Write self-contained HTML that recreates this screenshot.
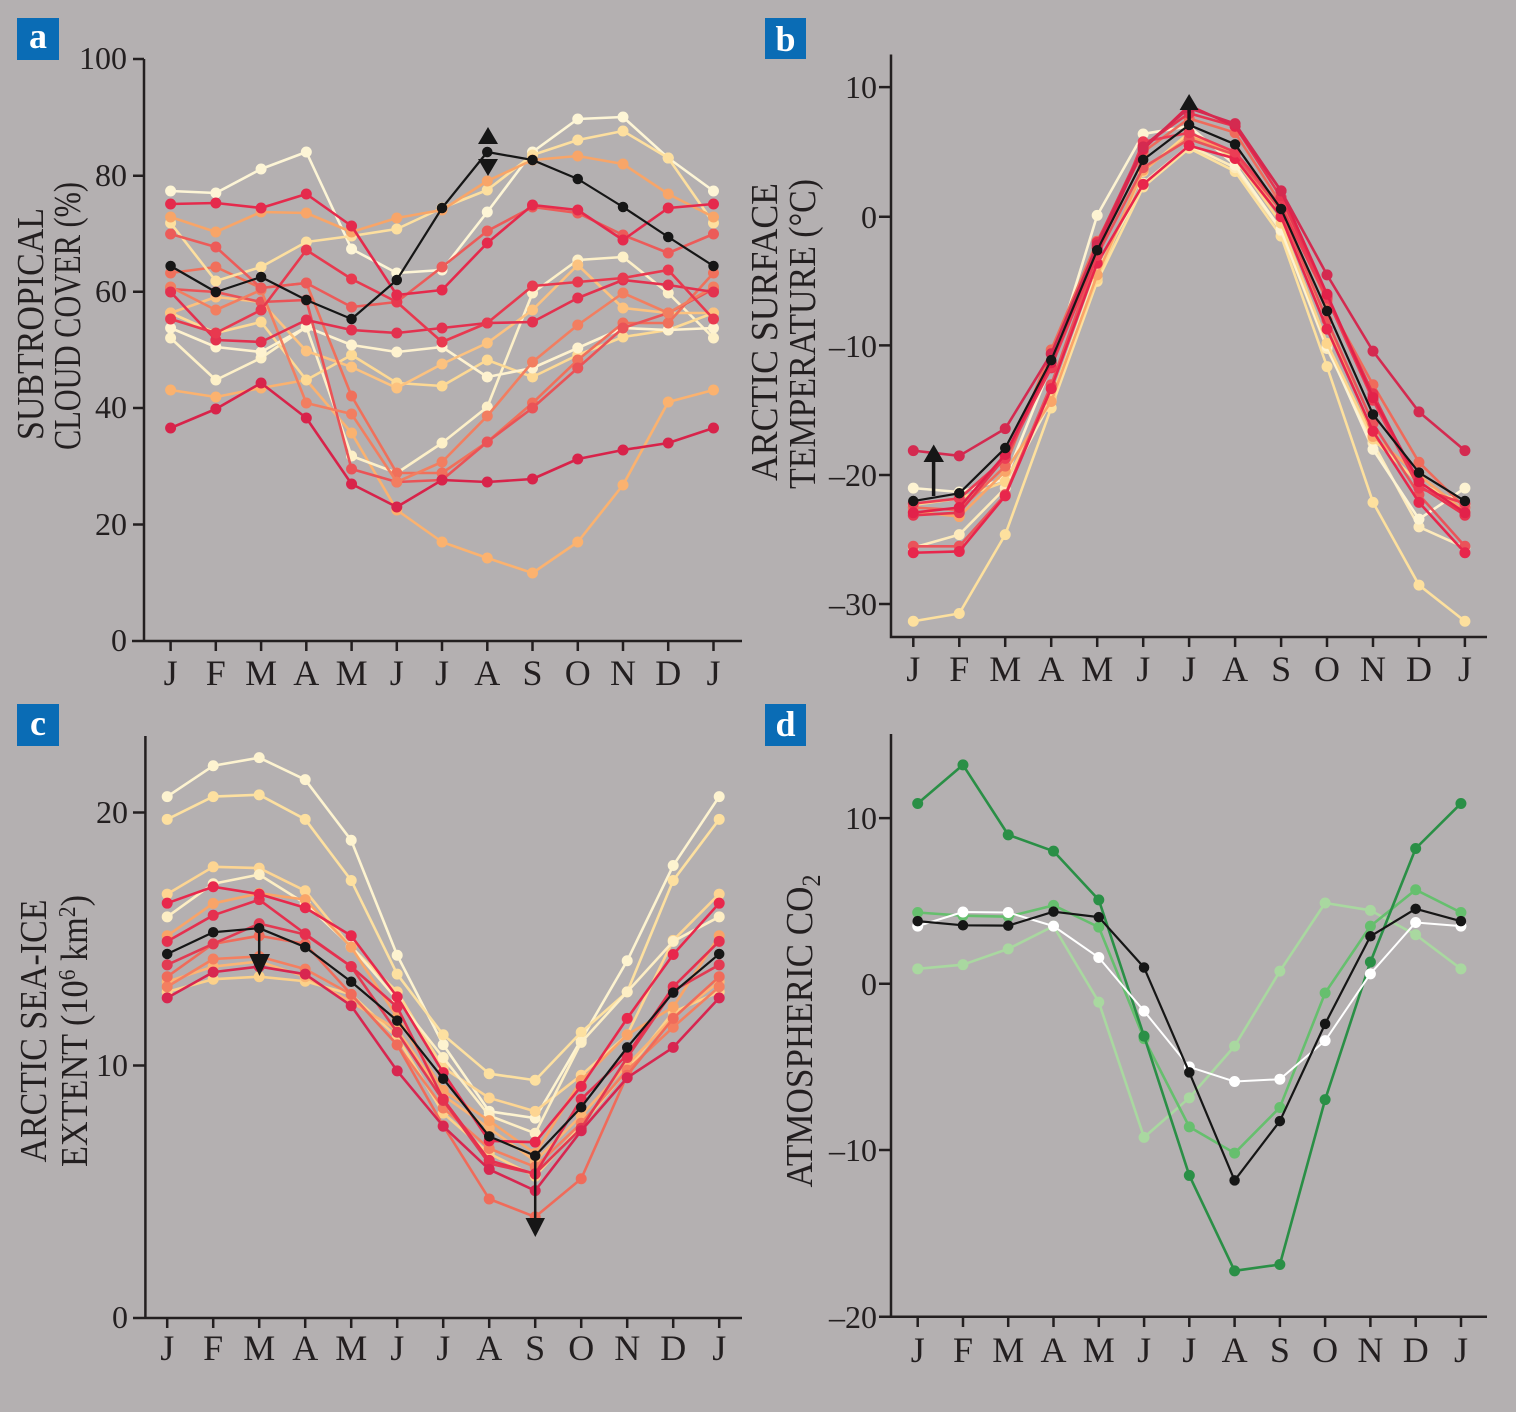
<!DOCTYPE html>
<html><head><meta charset="utf-8"><style>
html,body{margin:0;padding:0;background:#b4b0b1;}
svg{display:block;}
.l{fill:none;stroke-width:2.6;stroke-linejoin:round;vector-effect:non-scaling-stroke;}
.d{fill:none;stroke-width:11;stroke-linecap:round;vector-effect:non-scaling-stroke;}
.kl{fill:none;stroke:#161616;stroke-width:2.2;stroke-linejoin:round;vector-effect:non-scaling-stroke;}
.kd{fill:none;stroke:#161616;stroke-width:10.5;stroke-linecap:round;vector-effect:non-scaling-stroke;}
.ax{fill:none;stroke:#231f20;stroke-width:2.5;}
.t{font-family:"Liberation Serif",serif;fill:#231f20;font-size:32px;}
.m{font-family:"Liberation Serif",serif;fill:#231f20;font-size:36px;text-anchor:middle;}
.yl{font-family:"Liberation Serif",serif;fill:#231f20;font-size:38px;text-anchor:middle;}
.bx{font-family:"Liberation Serif",serif;fill:#fff;font-size:36px;font-weight:bold;text-anchor:middle;}
</style></head><body>
<svg width="1516" height="1412" viewBox="0 0 1516 1412" xmlns="http://www.w3.org/2000/svg">
<rect width="1516" height="1412" fill="#b4b0b1"/>

<!-- ================= PANEL A ================= -->
<rect x="17" y="18" width="42" height="42" fill="#0a6cb5"/>
<text class="bx" x="38" y="48">a</text>
<g transform="translate(170.6,0) scale(45.24,1)">
<path class="l" stroke="#fbb26f" d="M0 390L1 397L2 388L3 380L4 433L5 510L6 542L7 558L8 573L9 542L10 485L11 402L12 390"/>
<path class="d" stroke="#fbb26f" d="M0 390h0M1 397h0M2 388h0M3 380h0M4 433h0M5 510h0M6 542h0M7 558h0M8 573h0M9 542h0M10 485h0M11 402h0M12 390h0"/>
<path class="l" stroke="#fdf0c8" d="M0 338L1 380L2 358L3 327L4 456L5 473L6 443L7 407L8 293L9 260L10 257L11 293L12 338"/>
<path class="d" stroke="#fdf0c8" d="M0 338h0M1 380h0M2 358h0M3 327h0M4 456h0M5 473h0M6 443h0M7 407h0M8 293h0M9 260h0M10 257h0M11 293h0M12 338h0"/>
<path class="l" stroke="#fdd994" d="M0 313L1 333L2 322L3 380L4 355L5 383L6 386L7 360L8 377L9 355L10 337L11 330L12 313"/>
<path class="d" stroke="#fdd994" d="M0 313h0M1 333h0M2 322h0M3 380h0M4 355h0M5 383h0M6 386h0M7 360h0M8 377h0M9 355h0M10 337h0M11 330h0M12 313h0"/>
<path class="l" stroke="#fef2cf" d="M0 328L1 347L2 352L3 327L4 345L5 352L6 347L7 377L8 368L9 348L10 328L11 330L12 328"/>
<path class="d" stroke="#fef2cf" d="M0 328h0M1 347h0M2 352h0M3 327h0M4 345h0M5 352h0M6 347h0M7 377h0M8 368h0M9 348h0M10 328h0M11 330h0M12 328h0"/>
<path class="l" stroke="#fcc27f" d="M0 313L1 297L2 302L3 351L4 367L5 388L6 364L7 343L8 310L9 265L10 308L11 313L12 313"/>
<path class="d" stroke="#fcc27f" d="M0 313h0M1 297h0M2 302h0M3 351h0M4 367h0M5 388h0M6 364h0M7 343h0M8 310h0M9 265h0M10 308h0M11 313h0M12 313h0"/>
<path class="l" stroke="#f0705b" d="M0 273L1 267L2 288L3 283L4 396L5 473L6 473L7 442L8 403L9 360L10 323L11 323L12 273"/>
<path class="d" stroke="#f0705b" d="M0 273h0M1 267h0M2 288h0M3 283h0M4 396h0M5 473h0M6 473h0M7 442h0M8 403h0M9 360h0M10 323h0M11 323h0M12 273h0"/>
<path class="l" stroke="#ea5357" d="M0 289L1 292L2 302L3 300L4 469L5 482L6 480L7 442L8 408L9 368L10 328L11 313L12 289"/>
<path class="d" stroke="#ea5357" d="M0 289h0M1 292h0M2 302h0M3 300h0M4 469h0M5 482h0M6 480h0M7 442h0M8 408h0M9 368h0M10 328h0M11 313h0M12 289h0"/>
<path class="l" stroke="#f27e60" d="M0 287L1 310L2 290L3 403L4 414L5 482L6 462L7 416L8 362L9 325L10 293L11 313L12 287"/>
<path class="d" stroke="#f27e60" d="M0 287h0M1 310h0M2 290h0M3 403h0M4 414h0M5 482h0M6 462h0M7 416h0M8 362h0M9 325h0M10 293h0M11 313h0M12 287h0"/>
<path class="l" stroke="#fdf5d6" d="M0 191L1 193L2 169L3 152L4 249L5 273L6 270L7 212L8 152L9 119L10 117L11 158L12 191"/>
<path class="d" stroke="#fdf5d6" d="M0 191h0M1 193h0M2 169h0M3 152h0M4 249h0M5 273h0M6 270h0M7 212h0M8 152h0M9 119h0M10 117h0M11 158h0M12 191h0"/>
<path class="l" stroke="#fddf9f" d="M0 223L1 281L2 267L3 242L4 236L5 229L6 208L7 190L8 155L9 140L10 131L11 158L12 223"/>
<path class="d" stroke="#fddf9f" d="M0 223h0M1 281h0M2 267h0M3 242h0M4 236h0M5 229h0M6 208h0M7 190h0M8 155h0M9 140h0M10 131h0M11 158h0M12 223h0"/>
<path class="l" stroke="#f8a568" d="M0 217L1 232L2 212L3 213L4 232L5 218L6 210L7 181L8 160L9 156L10 164L11 194L12 217"/>
<path class="d" stroke="#f8a568" d="M0 217h0M1 232h0M2 212h0M3 213h0M4 232h0M5 218h0M6 210h0M7 181h0M8 160h0M9 156h0M10 164h0M11 194h0M12 217h0"/>
<path class="l" stroke="#ec5b59" d="M0 234L1 247L2 288L3 283L4 307L5 302L6 267L7 231L8 207L9 213L10 235L11 253L12 234"/>
<path class="d" stroke="#ec5b59" d="M0 234h0M1 247h0M2 288h0M3 283h0M4 307h0M5 302h0M6 267h0M7 231h0M8 207h0M9 213h0M10 235h0M11 253h0M12 234h0"/>
<path class="l" stroke="#e3314f" d="M0 292L1 340L2 342L3 320L4 330L5 333L6 328L7 323L8 322L9 298L10 280L11 285L12 292"/>
<path class="d" stroke="#e3314f" d="M0 292h0M1 340h0M2 342h0M3 320h0M4 330h0M5 333h0M6 328h0M7 323h0M8 322h0M9 298h0M10 280h0M11 285h0M12 292h0"/>
<path class="l" stroke="#e8394f" d="M0 319L1 333L2 310L3 250L4 279L5 302L6 342L7 323L8 286L9 282L10 278L11 270L12 319"/>
<path class="d" stroke="#e8394f" d="M0 319h0M1 333h0M2 310h0M3 250h0M4 279h0M5 302h0M6 342h0M7 323h0M8 286h0M9 282h0M10 278h0M11 270h0M12 319h0"/>
<path class="l" stroke="#e52a4c" d="M0 204L1 203L2 208L3 194L4 226L5 295L6 290L7 243L8 205L9 210L10 240L11 208L12 204"/>
<path class="d" stroke="#e52a4c" d="M0 204h0M1 203h0M2 208h0M3 194h0M4 226h0M5 295h0M6 290h0M7 243h0M8 205h0M9 210h0M10 240h0M11 208h0M12 204h0"/>
<path class="l" stroke="#d8234a" d="M0 428L1 409L2 383L3 418L4 484L5 507L6 480L7 482L8 479L9 459L10 450L11 443L12 428"/>
<path class="d" stroke="#d8234a" d="M0 428h0M1 409h0M2 383h0M3 418h0M4 484h0M5 507h0M6 480h0M7 482h0M8 479h0M9 459h0M10 450h0M11 443h0M12 428h0"/>
<path class="kl" d="M0 266L1 292L2 277L3 300L4 319L5 280L6 208L7 152L8 160L9 179L10 207L11 237L12 266"/>
<path class="kd" d="M0 266h0M1 292h0M2 277h0M3 300h0M4 319h0M5 280h0M6 208h0M7 152h0M8 160h0M9 179h0M10 207h0M11 237h0M12 266h0"/>
</g>
<path fill="#161616" d="M478 144L498 144L488 127Z M478 159L498 159L488 176Z"/>
<path class="ax" d="M144 59V641 M132 641H742 M133 59H144 M133 175.7H144 M133 291.7H144 M133 408H144 M133 524.5H144
M170.6 641V651 M215.8 641V651 M261.1 641V651 M306.3 641V651 M351.6 641V651 M396.8 641V651 M442 641V651 M487.3 641V651 M532.5 641V651 M577.8 641V651 M623 641V651 M668.2 641V651 M713.5 641V651"/>
<g class="t" text-anchor="end">
<text x="127" y="69">100</text><text x="127" y="186">80</text><text x="127" y="302">60</text><text x="127" y="418">40</text><text x="127" y="535">20</text><text x="127" y="651">0</text>
</g>
<g class="m">
<text x="170.6" y="685">J</text><text x="215.8" y="685">F</text><text x="261.1" y="685">M</text><text x="306.3" y="685">A</text><text x="351.6" y="685">M</text><text x="396.8" y="685">J</text><text x="442" y="685">J</text><text x="487.3" y="685">A</text><text x="532.5" y="685">S</text><text x="577.8" y="685">O</text><text x="623" y="685">N</text><text x="668.2" y="685">D</text><text x="713.5" y="685">J</text>
</g>
<text class="yl" transform="translate(43,324) rotate(-90)" textLength="232" lengthAdjust="spacingAndGlyphs">SUBTROPICAL</text>
<text class="yl" transform="translate(80,316) rotate(-90)" textLength="268" lengthAdjust="spacingAndGlyphs">CLOUD COVER (%)</text>

<!-- ================= PANEL B ================= -->
<rect x="765" y="18" width="41" height="41" fill="#0a6cb5"/>
<text class="bx" x="785.5" y="51">b</text>
<g transform="translate(913.3,216.7) scale(45.97,-12.925)">
<path class="l" stroke="#fde09e" d="M0 -31.3L1 -30.7L2 -24.6L3 -14.8L4 -5L5 2.3L6 5.3L7 3.5L8 -1.5L9 -11.6L10 -22.1L11 -28.5L12 -31.3"/>
<path class="d" stroke="#fde09e" d="M0 -31.3h0M1 -30.7h0M2 -24.6h0M3 -14.8h0M4 -5h0M5 2.3h0M6 5.3h0M7 3.5h0M8 -1.5h0M9 -11.6h0M10 -22.1h0M11 -28.5h0M12 -31.3h0"/>
<path class="l" stroke="#fdeabb" d="M0 -25.6L1 -24.6L2 -21L3 -14.2L4 -4.2L5 2.6L6 5.5L7 3.8L8 -1.1L9 -10.2L10 -17.5L11 -24L12 -25.6"/>
<path class="d" stroke="#fdeabb" d="M0 -25.6h0M1 -24.6h0M2 -21h0M3 -14.2h0M4 -4.2h0M5 2.6h0M6 5.5h0M7 3.8h0M8 -1.1h0M9 -10.2h0M10 -17.5h0M11 -24h0M12 -25.6h0"/>
<path class="l" stroke="#fdf3d2" d="M0 -21L1 -21.3L2 -20.3L3 -11.5L4 0.1L5 6.4L6 7L7 4L8 -1L9 -10L10 -18L11 -23.4L12 -21"/>
<path class="d" stroke="#fdf3d2" d="M0 -21h0M1 -21.3h0M2 -20.3h0M3 -11.5h0M4 0.1h0M5 6.4h0M6 7h0M7 4h0M8 -1h0M9 -10h0M10 -18h0M11 -23.4h0M12 -21h0"/>
<path class="l" stroke="#fdd58c" d="M0 -22.3L1 -21.8L2 -20.5L3 -14L4 -4.8L5 3.5L6 6.5L7 4.5L8 -0.5L9 -9.8L10 -17.2L11 -20.6L12 -22.3"/>
<path class="d" stroke="#fdd58c" d="M0 -22.3h0M1 -21.8h0M2 -20.5h0M3 -14h0M4 -4.8h0M5 3.5h0M6 6.5h0M7 4.5h0M8 -0.5h0M9 -9.8h0M10 -17.2h0M11 -20.6h0M12 -22.3h0"/>
<path class="l" stroke="#f9a569" d="M0 -22.8L1 -23.2L2 -19.7L3 -14.3L4 -4.5L5 3.6L6 6.2L7 5L8 0L9 -8L10 -17L11 -20L12 -22.8"/>
<path class="d" stroke="#f9a569" d="M0 -22.8h0M1 -23.2h0M2 -19.7h0M3 -14.3h0M4 -4.5h0M5 3.6h0M6 6.2h0M7 5h0M8 0h0M9 -8h0M10 -17h0M11 -20h0M12 -22.8h0"/>
<path class="l" stroke="#ef6b5b" d="M0 -22.5L1 -22.7L2 -19.3L3 -10.3L4 -1.9L5 5L6 7.6L7 6.5L8 1L9 -6.5L10 -13L11 -19L12 -22.5"/>
<path class="d" stroke="#ef6b5b" d="M0 -22.5h0M1 -22.7h0M2 -19.3h0M3 -10.3h0M4 -1.9h0M5 5h0M6 7.6h0M7 6.5h0M8 1h0M9 -6.5h0M10 -13h0M11 -19h0M12 -22.5h0"/>
<path class="l" stroke="#ea535a" d="M0 -25.5L1 -25.5L2 -21.5L3 -13L4 -3L5 3.8L6 6L7 4.8L8 0.5L9 -8L10 -16L11 -21.5L12 -25.5"/>
<path class="d" stroke="#ea535a" d="M0 -25.5h0M1 -25.5h0M2 -21.5h0M3 -13h0M4 -3h0M5 3.8h0M6 6h0M7 4.8h0M8 0.5h0M9 -8h0M10 -16h0M11 -21.5h0M12 -25.5h0"/>
<path class="l" stroke="#e8264c" d="M0 -26L1 -25.9L2 -21.6L3 -13.3L4 -3.6L5 2.5L6 5.5L7 4.5L8 0L9 -8.7L10 -16.6L11 -22.1L12 -26"/>
<path class="d" stroke="#e8264c" d="M0 -26h0M1 -25.9h0M2 -21.6h0M3 -13.3h0M4 -3.6h0M5 2.5h0M6 5.5h0M7 4.5h0M8 0h0M9 -8.7h0M10 -16.6h0M11 -22.1h0M12 -26h0"/>
<path class="l" stroke="#e63550" d="M0 -23.1L1 -22.9L2 -18.6L3 -11.7L4 -2L5 5.5L6 8L7 7L8 1.5L9 -6.2L10 -13.7L11 -20.8L12 -23.1"/>
<path class="d" stroke="#e63550" d="M0 -23.1h0M1 -22.9h0M2 -18.6h0M3 -11.7h0M4 -2h0M5 5.5h0M6 8h0M7 7h0M8 1.5h0M9 -6.2h0M10 -13.7h0M11 -20.8h0M12 -23.1h0"/>
<path class="l" stroke="#ec3d55" d="M0 -22.2L1 -21.8L2 -18.7L3 -11.6L4 -3L5 5.8L6 6.5L7 5L8 0.8L9 -6.3L10 -14.2L11 -21L12 -22.2"/>
<path class="d" stroke="#ec3d55" d="M0 -22.2h0M1 -21.8h0M2 -18.7h0M3 -11.6h0M4 -3h0M5 5.8h0M6 6.5h0M7 5h0M8 0.8h0M9 -6.3h0M10 -14.2h0M11 -21h0M12 -22.2h0"/>
<path class="l" stroke="#e2224a" d="M0 -22.9L1 -22.5L2 -18.4L3 -11.3L4 -2.4L5 5.2L6 8.6L7 7L8 2L9 -6L10 -14L11 -20.5L12 -22.9"/>
<path class="d" stroke="#e2224a" d="M0 -22.9h0M1 -22.5h0M2 -18.4h0M3 -11.3h0M4 -2.4h0M5 5.2h0M6 8.6h0M7 7h0M8 2h0M9 -6h0M10 -14h0M11 -20.5h0M12 -22.9h0"/>
<path class="l" stroke="#d42a50" d="M0 -18.1L1 -18.5L2 -16.4L3 -10.6L4 -2.2L5 5.4L6 8.4L7 7.2L8 2L9 -4.5L10 -10.4L11 -15.1L12 -18.1"/>
<path class="d" stroke="#d42a50" d="M0 -18.1h0M1 -18.5h0M2 -16.4h0M3 -10.6h0M4 -2.2h0M5 5.4h0M6 8.4h0M7 7.2h0M8 2h0M9 -4.5h0M10 -10.4h0M11 -15.1h0M12 -18.1h0"/>
<path class="kl" d="M0 -22L1 -21.4L2 -17.9L3 -11.1L4 -2.6L5 4.4L6 7.1L7 5.6L8 0.6L9 -7.3L10 -15.3L11 -19.8L12 -22"/>
<path class="kd" d="M0 -22h0M1 -21.4h0M2 -17.9h0M3 -11.1h0M4 -2.6h0M5 4.4h0M6 7.1h0M7 5.6h0M8 0.6h0M9 -7.3h0M10 -15.3h0M11 -19.8h0M12 -22h0"/>
</g>
<path stroke="#161616" stroke-width="3.5" d="M933.6 496V458 M1189.1 125V106"/>
<path fill="#161616" d="M923.5 462L944 462L933.7 444.5Z M1179.6 110L1198.6 110L1189.1 94Z"/>
<path class="ax" d="M891 54.5V637H1487 M879 87.1H891 M879 216.7H891 M879 345.4H891 M879 475H891 M879 604H891
M913.3 637V647 M959.3 637V647 M1005.2 637V647 M1051.2 637V647 M1097.2 637V647 M1143.2 637V647 M1189.1 637V647 M1235.1 637V647 M1281.1 637V647 M1327 637V647 M1373 637V647 M1419 637V647 M1464.9 637V647"/>
<g class="t" text-anchor="end">
<text x="877" y="98">10</text><text x="877" y="228">0</text><text x="877" y="357">–10</text><text x="877" y="486">–20</text><text x="877" y="615">–30</text>
</g>
<g class="m">
<text x="913.3" y="681">J</text><text x="959.3" y="681">F</text><text x="1005.2" y="681">M</text><text x="1051.2" y="681">A</text><text x="1097.2" y="681">M</text><text x="1143.2" y="681">J</text><text x="1189.1" y="681">J</text><text x="1235.1" y="681">A</text><text x="1281.1" y="681">S</text><text x="1327" y="681">O</text><text x="1373" y="681">N</text><text x="1419" y="681">D</text><text x="1464.9" y="681">J</text>
</g>
<text class="yl" transform="translate(777,332) rotate(-90)" textLength="298" lengthAdjust="spacingAndGlyphs">ARCTIC SURFACE</text>
<text class="yl" transform="translate(815,334) rotate(-90)" textLength="310" lengthAdjust="spacingAndGlyphs">TEMPERATURE (°C)</text>

<!-- ================= PANEL C ================= -->
<rect x="17" y="704" width="42" height="42" fill="#0a6cb5"/>
<text class="bx" x="38" y="735">c</text>
<g transform="translate(167.2,1317.7) scale(46,-25.26)">
<path class="l" stroke="#fdf3d0" d="M0 20.63L1 21.85L2 22.17L3 21.3L4 18.9L5 14.35L6 10.81L7 8.17L8 7.9L9 11L10 14.13L11 17.9L12 20.63"/>
<path class="d" stroke="#fdf3d0" d="M0 20.63h0M1 21.85h0M2 22.17h0M3 21.3h0M4 18.9h0M5 14.35h0M6 10.81h0M7 8.17h0M8 7.9h0M9 11h0M10 14.13h0M11 17.9h0M12 20.63h0"/>
<path class="l" stroke="#fde0a0" d="M0 19.73L1 20.63L2 20.7L3 19.73L4 17.31L5 13.6L6 11.2L7 9.66L8 9.4L9 11.3L10 12.9L11 17.31L12 19.73"/>
<path class="d" stroke="#fde0a0" d="M0 19.73h0M1 20.63h0M2 20.7h0M3 19.73h0M4 17.31h0M5 13.6h0M6 11.2h0M7 9.66h0M8 9.4h0M9 11.3h0M10 12.9h0M11 17.31h0M12 19.73h0"/>
<path class="l" stroke="#fdd592" d="M0 16.77L1 17.85L2 17.8L3 16.9L4 14.67L5 12.9L6 9.9L7 8.7L8 8.17L9 9.6L10 11.2L11 14.94L12 16.77"/>
<path class="d" stroke="#fdd592" d="M0 16.77h0M1 17.85h0M2 17.8h0M3 16.9h0M4 14.67h0M5 12.9h0M6 9.9h0M7 8.7h0M8 8.17h0M9 9.6h0M10 11.2h0M11 14.94h0M12 16.77h0"/>
<path class="l" stroke="#fdeec4" d="M0 15.87L1 17.18L2 17.54L3 16.4L4 14.7L5 12.6L6 10.3L7 8L8 7.3L9 10.9L10 12.9L11 14.9L12 15.87"/>
<path class="d" stroke="#fdeec4" d="M0 15.87h0M1 17.18h0M2 17.54h0M3 16.4h0M4 14.7h0M5 12.6h0M6 10.3h0M7 8h0M8 7.3h0M9 10.9h0M10 12.9h0M11 14.9h0M12 15.87h0"/>
<path class="l" stroke="#fcd18a" d="M0 12.9L1 13.4L2 13.5L3 13.32L4 12.8L5 11.1L6 8.1L7 6.5L8 5.6L9 7.6L10 9.8L11 12.1L12 12.9"/>
<path class="d" stroke="#fcd18a" d="M0 12.9h0M1 13.4h0M2 13.5h0M3 13.32h0M4 12.8h0M5 11.1h0M6 8.1h0M7 6.5h0M8 5.6h0M9 7.6h0M10 9.8h0M11 12.1h0M12 12.9h0"/>
<path class="l" stroke="#fbb474" d="M0 13.3L1 13.9L2 14.1L3 13.5L4 12.5L5 11.4L6 8.8L7 7.5L8 6.2L9 8L10 10L11 11.9L12 13.3"/>
<path class="d" stroke="#fbb474" d="M0 13.3h0M1 13.9h0M2 14.1h0M3 13.5h0M4 12.5h0M5 11.4h0M6 8.8h0M7 7.5h0M8 6.2h0M9 8h0M10 10h0M11 11.9h0M12 13.3h0"/>
<path class="l" stroke="#f9a468" d="M0 15.12L1 16.4L2 16.8L3 16.55L4 14.67L5 11.9L6 9L7 7.8L8 6.5L9 9.4L10 11.2L11 12.3L12 15.12"/>
<path class="d" stroke="#f9a468" d="M0 15.12h0M1 16.4h0M2 16.8h0M3 16.55h0M4 14.67h0M5 11.9h0M6 9h0M7 7.8h0M8 6.5h0M9 9.4h0M10 11.2h0M11 12.3h0M12 15.12h0"/>
<path class="l" stroke="#f47f60" d="M0 13.1L1 14.2L2 14.3L3 13.8L4 12.8L5 10.8L6 8.3L7 6.7L8 5.97L9 7.7L10 9.8L11 11.5L12 13.1"/>
<path class="d" stroke="#f47f60" d="M0 13.1h0M1 14.2h0M2 14.3h0M3 13.8h0M4 12.8h0M5 10.8h0M6 8.3h0M7 6.7h0M8 5.97h0M9 7.7h0M10 9.8h0M11 11.5h0M12 13.1h0"/>
<path class="l" stroke="#f06b5a" d="M0 13.5L1 14.8L2 15.12L3 14.8L4 12.8L5 10.8L6 7.6L7 4.7L8 3.99L9 5.5L10 9.6L11 11.85L12 13.5"/>
<path class="d" stroke="#f06b5a" d="M0 13.5h0M1 14.8h0M2 15.12h0M3 14.8h0M4 12.8h0M5 10.8h0M6 7.6h0M7 4.7h0M8 3.99h0M9 5.5h0M10 9.6h0M11 11.85h0M12 13.5h0"/>
<path class="l" stroke="#e23a52" d="M0 13.97L1 14.8L2 15.6L3 15.17L4 13.9L5 11.3L6 8.6L7 6.1L8 5.7L9 7.5L10 10.3L11 12.95L12 13.97"/>
<path class="d" stroke="#e23a52" d="M0 13.97h0M1 14.8h0M2 15.6h0M3 15.17h0M4 13.9h0M5 11.3h0M6 8.6h0M7 6.1h0M8 5.7h0M9 7.5h0M10 10.3h0M11 12.95h0M12 13.97h0"/>
<path class="l" stroke="#e5304f" d="M0 14.9L1 15.93L2 16.55L3 15.2L4 13.9L5 12.3L6 8.65L7 6.23L8 5.69L9 8.65L10 10.4L11 13.1L12 14.9"/>
<path class="d" stroke="#e5304f" d="M0 14.9h0M1 15.93h0M2 16.55h0M3 15.2h0M4 13.9h0M5 12.3h0M6 8.65h0M7 6.23h0M8 5.69h0M9 8.65h0M10 10.4h0M11 13.1h0M12 14.9h0"/>
<path class="l" stroke="#e8284c" d="M0 16.41L1 17.06L2 16.77L3 16.23L4 15.12L5 12.7L6 9.7L7 7L8 6.95L9 9.16L10 11.85L11 14.38L12 16.41"/>
<path class="d" stroke="#e8284c" d="M0 16.41h0M1 17.06h0M2 16.77h0M3 16.23h0M4 15.12h0M5 12.7h0M6 9.7h0M7 7h0M8 6.95h0M9 9.16h0M10 11.85h0M11 14.38h0M12 16.41h0"/>
<path class="l" stroke="#d82650" d="M0 12.66L1 13.68L2 13.9L3 13.6L4 12.35L5 9.77L6 7.58L7 5.87L8 5.03L9 7.4L10 9.5L11 10.7L12 12.66"/>
<path class="d" stroke="#d82650" d="M0 12.66h0M1 13.68h0M2 13.9h0M3 13.6h0M4 12.35h0M5 9.77h0M6 7.58h0M7 5.87h0M8 5.03h0M9 7.4h0M10 9.5h0M11 10.7h0M12 12.66h0"/>
<path class="kl" d="M0 14.4L1 15.26L2 15.42L3 14.67L4 13.3L5 11.76L6 9.46L7 7.18L8 6.41L9 8.33L10 10.7L11 12.87L12 14.4"/>
<path class="kd" d="M0 14.4h0M1 15.26h0M2 15.42h0M3 14.67h0M4 13.3h0M5 11.76h0M6 9.46h0M7 7.18h0M8 6.41h0M9 8.33h0M10 10.7h0M11 12.87h0M12 14.4h0"/>
</g>
<path stroke="#161616" stroke-width="2.5" d="M259.2 928V958 M535.2 1156V1221"/>
<path fill="#161616" d="M249 954L270 954L259.5 976Z M525.5 1218L545 1218L535.3 1237Z"/>
<path class="ax" d="M145.4 736V1318 M133 1318H742 M133 812.5H145 M133 1065.5H145
M167.2 1318V1328 M213.2 1318V1328 M259.2 1318V1328 M305.2 1318V1328 M351.2 1318V1328 M397.2 1318V1328 M443.2 1318V1328 M489.2 1318V1328 M535.2 1318V1328 M581.2 1318V1328 M627.2 1318V1328 M673.2 1318V1328 M719.2 1318V1328"/>
<g class="t" text-anchor="end">
<text x="128" y="823">20</text><text x="128" y="1076">10</text><text x="128" y="1328">0</text>
</g>
<g class="m">
<text x="167.2" y="1360">J</text><text x="213.2" y="1360">F</text><text x="259.2" y="1360">M</text><text x="305.2" y="1360">A</text><text x="351.2" y="1360">M</text><text x="397.2" y="1360">J</text><text x="443.2" y="1360">J</text><text x="489.2" y="1360">A</text><text x="535.2" y="1360">S</text><text x="581.2" y="1360">O</text><text x="627.2" y="1360">N</text><text x="673.2" y="1360">D</text><text x="719.2" y="1360">J</text>
</g>
<text class="yl" transform="translate(46,1031) rotate(-90)" textLength="263" lengthAdjust="spacingAndGlyphs">ARCTIC SEA-ICE</text>
<text class="yl" transform="translate(87,1031) rotate(-90)" textLength="272" lengthAdjust="spacingAndGlyphs">EXTENT (10<tspan dy="-12" font-size="24">6</tspan><tspan dy="12"> km</tspan><tspan dy="-12" font-size="24">2</tspan><tspan dy="12">)</tspan></text>

<!-- ================= PANEL D ================= -->
<rect x="765" y="704" width="41" height="42" fill="#0a6cb5"/>
<text class="bx" x="785.5" y="736">d</text>
<g transform="translate(917.7,983.8) scale(45.27,-16.62)">
<path class="l" stroke="#a9d8a0" d="M0 0.9L1 1.15L2 2.1L3 3.47L4 -1.1L5 -9.24L6 -6.86L7 -3.75L8 0.76L9 4.86L10 4.42L11 2.95L12 0.9"/>
<path class="d" stroke="#a9d8a0" d="M0 0.9h0M1 1.15h0M2 2.1h0M3 3.47h0M4 -1.1h0M5 -9.24h0M6 -6.86h0M7 -3.75h0M8 0.76h0M9 4.86h0M10 4.42h0M11 2.95h0M12 0.9h0"/>
<path class="l" stroke="#66bf6e" d="M0 4.29L1 4.1L2 4.04L3 4.72L4 3.41L5 -3.3L6 -8.61L7 -10.19L8 -7.44L9 -0.55L10 3.47L11 5.66L12 4.29"/>
<path class="d" stroke="#66bf6e" d="M0 4.29h0M1 4.1h0M2 4.04h0M3 4.72h0M4 3.41h0M5 -3.3h0M6 -8.61h0M7 -10.19h0M8 -7.44h0M9 -0.55h0M10 3.47h0M11 5.66h0M12 4.29h0"/>
<path class="l" stroke="#2a8f46" d="M0 10.85L1 13.17L2 8.96L3 7.98L4 5.05L5 -3.15L6 -11.53L7 -17.27L8 -16.89L9 -6.97L10 1.31L11 8.14L12 10.85"/>
<path class="d" stroke="#2a8f46" d="M0 10.85h0M1 13.17h0M2 8.96h0M3 7.98h0M4 5.05h0M5 -3.15h0M6 -11.53h0M7 -17.27h0M8 -16.89h0M9 -6.97h0M10 1.31h0M11 8.14h0M12 10.85h0"/>
<path class="l" stroke="#ffffff" style="stroke-width:2" d="M0 3.47L1 4.32L2 4.29L3 3.47L4 1.58L5 -1.64L6 -5L7 -5.88L8 -5.74L9 -3.42L10 0.6L11 3.69L12 3.47"/>
<path class="d" stroke="#ffffff" d="M0 3.47h0M1 4.32h0M2 4.29h0M3 3.47h0M4 1.58h0M5 -1.64h0M6 -5h0M7 -5.88h0M8 -5.74h0M9 -3.42h0M10 0.6h0M11 3.69h0M12 3.47h0"/>
<path class="kl" d="M0 3.77L1 3.52L2 3.5L3 4.34L4 4.01L5 0.98L6 -5.33L7 -11.83L8 -8.26L9 -2.41L10 2.86L11 4.51L12 3.77"/>
<path class="kd" d="M0 3.77h0M1 3.52h0M2 3.5h0M3 4.34h0M4 4.01h0M5 0.98h0M6 -5.33h0M7 -11.83h0M8 -8.26h0M9 -2.41h0M10 2.86h0M11 4.51h0M12 3.77h0"/>
</g>
<path class="ax" d="M891 734V1316.7 M879 1316.7H1487 M879 818.1H891 M879 983.8H891 M879 1150H891
M917.7 1317V1327 M963 1317V1327 M1008.2 1317V1327 M1053.5 1317V1327 M1098.8 1317V1327 M1144.1 1317V1327 M1189.3 1317V1327 M1234.6 1317V1327 M1279.9 1317V1327 M1325.1 1317V1327 M1370.4 1317V1327 M1415.7 1317V1327 M1461 1317V1327"/>
<g class="t" text-anchor="end">
<text x="877" y="829">10</text><text x="877" y="995">0</text><text x="877" y="1161">–10</text><text x="877" y="1328">–20</text>
</g>
<g class="m">
<text x="917.7" y="1362">J</text><text x="963" y="1362">F</text><text x="1008.2" y="1362">M</text><text x="1053.5" y="1362">A</text><text x="1098.8" y="1362">M</text><text x="1144.1" y="1362">J</text><text x="1189.3" y="1362">J</text><text x="1234.6" y="1362">A</text><text x="1279.9" y="1362">S</text><text x="1325.1" y="1362">O</text><text x="1370.4" y="1362">N</text><text x="1415.7" y="1362">D</text><text x="1461" y="1362">J</text>
</g>
<text class="yl" transform="translate(812,1031) rotate(-90)" textLength="313" lengthAdjust="spacingAndGlyphs">ATMOSPHERIC CO<tspan dy="8" font-size="26">2</tspan></text>
</svg>
</body></html>
